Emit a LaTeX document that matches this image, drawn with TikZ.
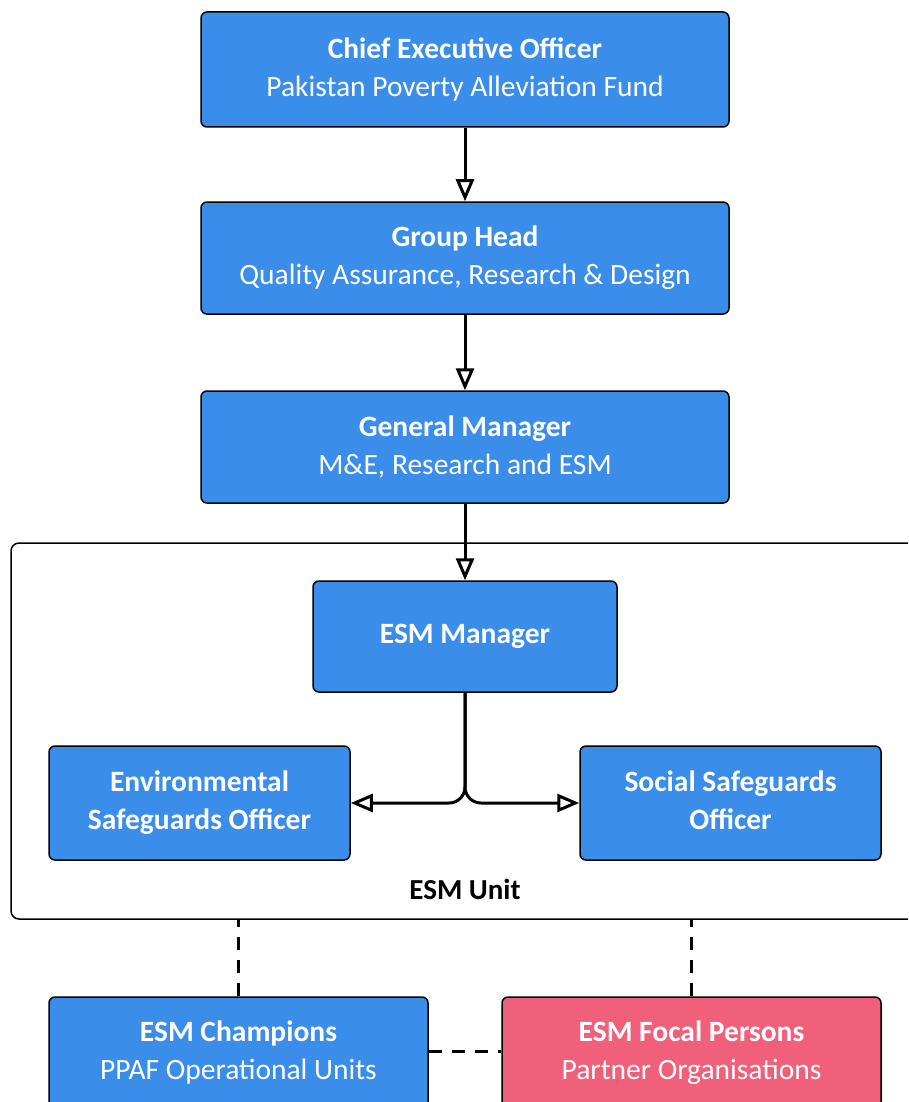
\documentclass[tikz,border=0pt]{standalone}
\usepackage{fontspec}
\setmainfont{Carlito}
\usetikzlibrary{arrows.meta}
\definecolor{boxblue}{RGB}{59,141,234}
\definecolor{boxpink}{RGB}{240,96,122}
\tikzset{
  orgbox/.style={draw=black, line width=1.5pt, rounded corners=6pt, fill=boxblue, text=white, align=center, font=\fontsize{29.5}{38}\selectfont, inner sep=0pt},
  pinkbox/.style={orgbox, fill=boxpink},
  conn/.style={line width=3pt, -{Triangle[open, length=22pt, width=18pt, line width=3pt]}},
  dashconn/.style={line width=3pt, dash pattern=on 13pt off 10pt},
  unitbox/.style={draw=black, line width=1.5pt, rounded corners=8pt, inner sep=0pt},
}
\begin{document}
\begin{tikzpicture}[x=1pt,y=-1pt]
\useasboundingbox (0,0) rectangle (908,1102);
\clip (0,0) rectangle (908,1102);
\node[unitbox, minimum width=930pt, minimum height=376pt] (unit) at (476,731) {};
\node[font=\bfseries\fontsize{29}{34}\selectfont] (unitlabel) at (465,889) {ESM Unit};
\node[orgbox, minimum width=528pt, minimum height=115pt] (ceo) at (465,69.5) {\textbf{Chief Executive Officer}\\Pakistan Poverty Alleviation Fund};
\node[orgbox, minimum width=528pt, minimum height=112pt] (gh) at (465,258) {\textbf{Group Head}\\Quality Assurance, Research \& Design};
\node[orgbox, minimum width=528pt, minimum height=112pt] (gm) at (465,447) {\textbf{General Manager}\\M\&E, Research and ESM};
\node[orgbox, minimum width=304pt, minimum height=111pt] (mgr) at (465,636.5) {\textbf{ESM Manager}};
\node[orgbox, minimum width=301pt, minimum height=114pt] (env) at (199.5,803) {\textbf{Environmental}\\\textbf{Safeguards Officer}};
\node[orgbox, minimum width=301pt, minimum height=114pt] (soc) at (730.5,803) {\textbf{Social Safeguards}\\\textbf{Officer}\vphantom{g}};
\node[orgbox, minimum width=379pt, minimum height=112pt] (champ) at (238.5,1053) {\textbf{ESM Champions}\\PPAF Operational Units};
\node[pinkbox, minimum width=379pt, minimum height=112pt] (focal) at (691.5,1053) {\textbf{ESM Focal Persons}\\Partner Organisations};
\draw[conn] (ceo) -- (gh);
\draw[conn] (gh) -- (gm);
\draw[conn] (gm) -- (mgr);
\draw[conn, rounded corners=16pt] (mgr.south) |- (env.east);
\draw[conn, rounded corners=16pt] (mgr.south) |- (soc.west);
\draw[dashconn] (champ.north) -- (champ.north |- unit.south);
\draw[dashconn] (focal.north) -- (focal.north |- unit.south);
\draw[dashconn] (champ.east |- 0,1051) -- (focal.west |- 0,1051);
\end{tikzpicture}
\end{document}
